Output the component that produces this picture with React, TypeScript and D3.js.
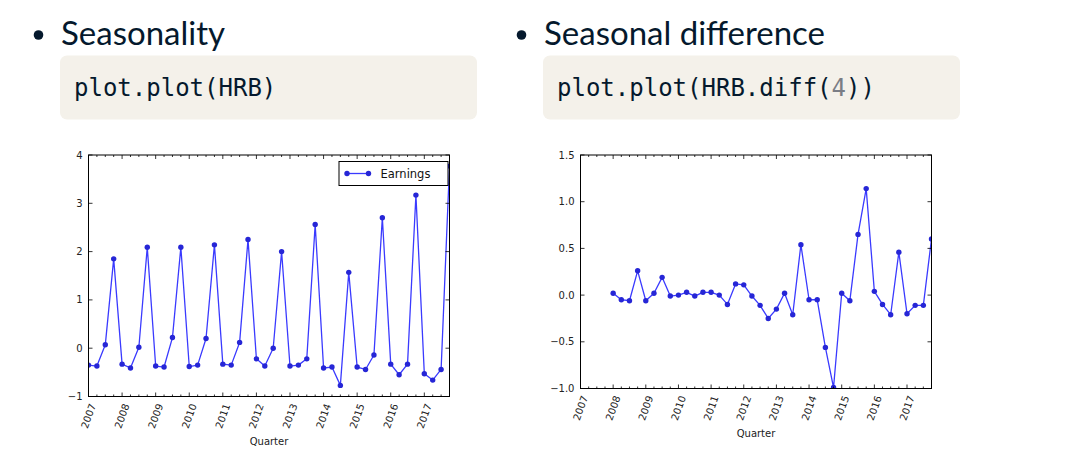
import React from "react";
import * as d3 from "d3";

// ---------- data ----------
const yearLabels = ["2007", "2008", "2009", "2010", "2011", "2012", "2013", "2014", "2015", "2016", "2017"];

// HRB quarterly earnings, 2007Q1 .. 2017Q4
const earningsStartYear = 2007;
const earnings = [
  -0.35, -0.37, 0.07, 1.85,
  -0.33, -0.41, 0.02, 2.09,
  -0.37, -0.39, 0.22, 2.09,
  -0.38, -0.35, 0.2, 2.14,
  -0.33, -0.35, 0.12, 2.25,
  -0.22, -0.37, 0.0, 2.0,
  -0.37, -0.35, -0.22, 2.56,
  -0.41, -0.39, -0.77, 1.57,
  -0.39, -0.44, -0.14, 2.7,
  -0.33, -0.55, -0.33, 3.17,
  -0.53, -0.66, -0.44, 3.77,
];

// HRB.diff(4), 2008Q1 .. 2017Q4
const diffStartYear = 2008;
const seasonalDiff = [
  0.02, -0.05, -0.06, 0.26,
  -0.06, 0.02, 0.19, -0.01,
  0.0, 0.03, -0.01, 0.03,
  0.03, 0.0, -0.1, 0.12,
  0.11, -0.01, -0.11, -0.25,
  -0.15, 0.02, -0.21, 0.54,
  -0.05, -0.05, -0.56, -0.99,
  0.02, -0.06, 0.65, 1.14,
  0.04, -0.1, -0.21, 0.46,
  -0.2, -0.11, -0.11, 0.6,
];

const leftYTicks = [-1, 0, 1, 2, 3, 4];
const rightYTicks = [-1.0, -0.5, 0.0, 0.5, 1.0, 1.5];

// ---------- styles ----------
const INK = "#05192d";
const TICK_FONT = "'DejaVu Sans', sans-serif";
const LINE_COLOR = "#3a3aff";
const MARKER_COLOR = "#2626d6";

type ChartProps = {
  id: string;
  left: number;
  right: number;
  top: number;
  bottom: number;
  yDomain: [number, number];
  yTicks: number[];
  yFormat: (v: number) => string;
  values: number[];
  startYear: number;
  legend?: string;
};

function Chart(p: ChartProps) {
  const x = d3.scaleLinear().domain([2007, 2017.75]).range([p.left, p.right]);
  const y = d3.scaleLinear().domain(p.yDomain).range([p.bottom, p.top]);
  const pts: [number, number][] = p.values.map((v, i) => [x(p.startYear + i / 4), y(v)]);
  const path = d3.line()(pts) || "";
  const majors = yearLabels.map((l) => +l);
  const minors = d3.range(2007, 2017.8, 0.25).filter((q) => Math.abs(q - Math.round(q)) > 1e-6);
  const majorLen = 4;
  const minorLen = 2;
  const tickStroke = "#000";
  return (
    <g>
      <defs>
        <clipPath id={p.id}>
          <rect x={p.left} y={p.top} width={p.right - p.left} height={p.bottom - p.top} />
        </clipPath>
      </defs>
      <rect x={p.left} y={p.top} width={p.right - p.left} height={p.bottom - p.top} fill="#fff" />
      <g clipPath={`url(#${p.id})`}>
        <path d={path} fill="none" stroke={LINE_COLOR} strokeWidth={1.3} strokeLinejoin="round" />
        {pts.map(([cx, cy], i) => (
          <circle key={i} cx={cx} cy={cy} r={2.7} fill={MARKER_COLOR} />
        ))}
      </g>
      {/* x ticks (inward, top and bottom) */}
      {majors.map((q) => (
        <g key={"M" + q}>
          <line x1={x(q)} x2={x(q)} y1={p.bottom} y2={p.bottom - majorLen} stroke={tickStroke} strokeWidth={0.8} />
          <line x1={x(q)} x2={x(q)} y1={p.top} y2={p.top + majorLen} stroke={tickStroke} strokeWidth={0.8} />
        </g>
      ))}
      {minors.map((q) => (
        <g key={"m" + q}>
          <line x1={x(q)} x2={x(q)} y1={p.bottom} y2={p.bottom - minorLen} stroke={tickStroke} strokeWidth={0.8} />
          <line x1={x(q)} x2={x(q)} y1={p.top} y2={p.top + minorLen} stroke={tickStroke} strokeWidth={0.8} />
        </g>
      ))}
      {/* y ticks */}
      {p.yTicks.map((t) => (
        <g key={"y" + t}>
          <line x1={p.left} x2={p.left + majorLen} y1={y(t)} y2={y(t)} stroke={tickStroke} strokeWidth={0.8} />
          <line x1={p.right} x2={p.right - majorLen} y1={y(t)} y2={y(t)} stroke={tickStroke} strokeWidth={0.8} />
          <text
            x={p.left - 6}
            y={y(t)}
            textAnchor="end"
            dominantBaseline="central"
            fontFamily={TICK_FONT}
            fontSize={10}
            fill="#222"
          >
            {p.yFormat(t)}
          </text>
        </g>
      ))}
      {/* x tick labels */}
      {majors.map((q, i) => (
        <text
          key={"xl" + q}
          transform={`translate(${x(q)},${p.bottom + 19.5}) rotate(-70)`}
          textAnchor="middle"
          dominantBaseline="central"
          fontFamily={TICK_FONT}
          fontSize={10}
          fill="#222"
        >
          {yearLabels[i]}
        </text>
      ))}
      <text
        x={(p.left + p.right) / 2}
        y={p.bottom + 45}
        textAnchor="middle"
        dominantBaseline="central"
        fontFamily={TICK_FONT}
        fontSize={10}
        fill="#222"
      >
        Quarter
      </text>
      <rect
        x={p.left}
        y={p.top}
        width={p.right - p.left}
        height={p.bottom - p.top}
        fill="none"
        stroke="#000"
        strokeWidth={1}
      />
      {p.legend && (
        <g>
          <rect x={p.right - 110.5} y={p.top + 6.5} width={109} height={24} fill="#fff" stroke="#000" strokeWidth={1} />
          <line x1={p.right - 102.5} x2={p.right - 81} y1={p.top + 18.5} y2={p.top + 18.5} stroke={LINE_COLOR} strokeWidth={1.3} />
          <circle cx={p.right - 102.5} cy={p.top + 18.5} r={2.7} fill={MARKER_COLOR} />
          <circle cx={p.right - 81} cy={p.top + 18.5} r={2.7} fill={MARKER_COLOR} />
          <text
            x={p.right - 69}
            y={p.top + 18.5}
            dominantBaseline="central"
            fontFamily={TICK_FONT}
            fontSize={11.5}
            fill="#111"
          >
            {p.legend}
          </text>
        </g>
      )}
    </g>
  );
}

function Header({ x, title, code }: { x: number; title: string; code: React.ReactNode }) {
  return (
    <g>
      <circle cx={x - 22.5} cy={35} r={4.8} fill={INK} />
      <text x={x} y={45} fontFamily="Lato, 'Noto Sans', sans-serif" fontSize={33} fill={INK}>
        {title}
      </text>
      <rect x={x - 1} y={55.5} width={417} height={64} rx={7} fill="#f4f1ea" />
      <text x={x + 13} y={96} fontFamily="'DejaVu Sans Mono', 'Liberation Mono', monospace" fontSize={24} fill={INK}>
        {code}
      </text>
    </g>
  );
}

export default function App() {
  const fmt1 = (v: number) => (v < 0 ? "\u2212" + Math.abs(v).toFixed(1) : v.toFixed(1));
  const fmt0 = (v: number) => (v < 0 ? "\u2212" + Math.abs(v) : String(v));
  return (
    <svg
      width={1086}
      height={452}
      style={{ position: "absolute", left: 0, top: 0, background: "#fff" }}
    >
      <rect width={1086} height={452} fill="#fff" />
      <Header x={61} title="Seasonality" code="plot.plot(HRB)" />
      <Header
        x={544}
        title="Seasonal difference"
        code={
          <>
            plot.plot(HRB.diff(<tspan fill="#7a7d85">4</tspan>))
          </>
        }
      />
      <Chart
        id="clipLeft"
        left={88.5}
        right={449.5}
        top={155}
        bottom={396.5}
        yDomain={[-1, 4]}
        yTicks={leftYTicks}
        yFormat={fmt0}
        values={earnings}
        startYear={earningsStartYear}
        legend="Earnings"
      />
      <Chart
        id="clipRight"
        left={580.5}
        right={931.5}
        top={155}
        bottom={388.5}
        yDomain={[-1, 1.5]}
        yTicks={rightYTicks}
        yFormat={fmt1}
        values={seasonalDiff}
        startYear={diffStartYear}
      />
    </svg>
  );
}
